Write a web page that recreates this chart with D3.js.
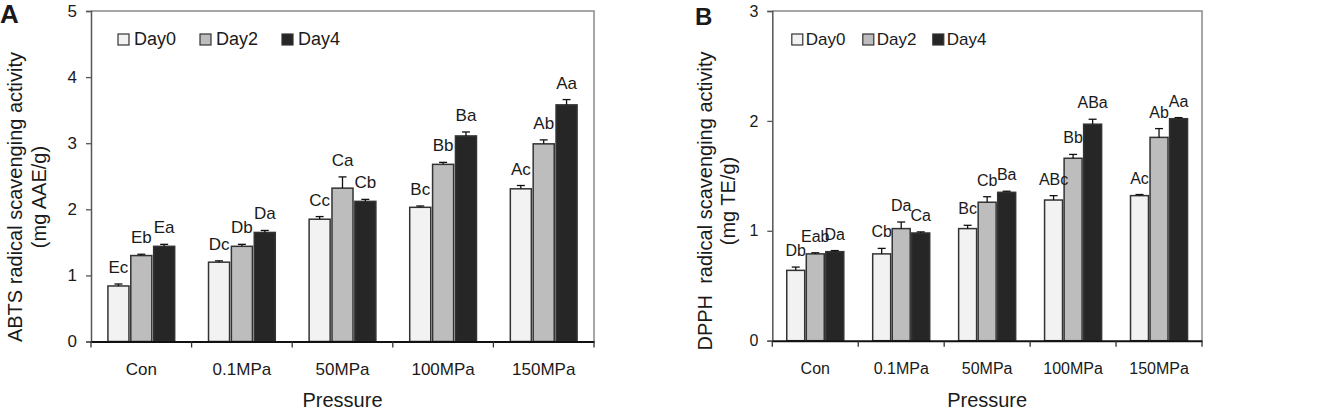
<!DOCTYPE html>
<html lang="en">
<head>
    <meta charset="UTF-8">
    <title>ABTS and DPPH radical scavenging activity</title>
    <script src="https://cdn.jsdelivr.net/npm/d3@7"></script>
    <style>
        body { margin: 0; background: #fff; }
        text { font-family: Arial, "Liberation Sans", sans-serif; fill: #1a1a1a; }
    </style>
</head>
<body>
    <div id="chart-space"></div>

    <script>
        // categories and series
        var categories = ["Con", "0.1MPa", "50MPa", "100MPa", "150MPa"];
        var series = ["Day0", "Day2", "Day4"];

        // panel A: ABTS (mg AAE/g)
        var abtsDay0 = [0.84, 1.20, 1.85, 2.03, 2.31];
        var abtsDay2 = [1.30, 1.44, 2.32, 2.68, 2.99];
        var abtsDay4 = [1.44, 1.65, 2.12, 3.11, 3.58];
        var abtsErr0 = [0.03, 0.02, 0.04, 0.02, 0.05];
        var abtsErr2 = [0.02, 0.03, 0.17, 0.03, 0.06];
        var abtsErr4 = [0.03, 0.03, 0.03, 0.06, 0.08];
        var abtsLab0 = ["Ec", "Dc", "Cc", "Bc", "Ac"];
        var abtsLab2 = ["Eb", "Db", "Ca", "Bb", "Ab"];
        var abtsLab4 = ["Ea", "Da", "Cb", "Ba", "Aa"];
        var abtsTicks = [0, 1, 2, 3, 4, 5];

        // panel B: DPPH (mg TE/g)
        var dpphDay0 = [0.64, 0.79, 1.02, 1.28, 1.32];
        var dpphDay2 = [0.79, 1.02, 1.26, 1.66, 1.85];
        var dpphDay4 = [0.81, 0.98, 1.35, 1.97, 2.02];
        var dpphErr0 = [0.03, 0.05, 0.03, 0.04, 0.01];
        var dpphErr2 = [0.01, 0.06, 0.05, 0.035, 0.08];
        var dpphErr4 = [0.01, 0.01, 0.01, 0.045, 0.01];
        var dpphLab0 = ["Db", "Cb", "Bc", "ABc", "Ac"];
        var dpphLab2 = ["Eab", "Da", "Cb", "Bb", "Ab"];
        var dpphLab4 = ["Da", "Ca", "Ba", "ABa", "Aa"];
        var dpphTicks = [0, 1, 2, 3];

        var fills = ["#f2f2f2", "#bdbdbd", "#262626"];

        var svg = d3.select("#chart-space")
            .append("svg")
            .attr("width", 1341)
            .attr("height", 411);

        svg.append("rect").attr("width", 1341).attr("height", 411).attr("fill", "#fff");

        drawPanel({
            letter: "A", letterX: 0, letterY: 23, letterSize: 26,
            left: 91, right: 594, top: 11, bottom: 341.5,
            values: [abtsDay0, abtsDay2, abtsDay4],
            errors: [abtsErr0, abtsErr2, abtsErr4],
            labels: [abtsLab0, abtsLab2, abtsLab4],
            ticks: abtsTicks,
            title: ["ABTS radical scavenging activity", "(mg AAE/g)"],
            titleX: [22, 46], titleY: 197,
            legendX: [27, 109, 191], legendGap: 16,
            font: 17
        });

        drawPanel({
            letter: "B", letterX: 695, letterY: 25, letterSize: 24,
            left: 772.3, right: 1202, top: 11, bottom: 340.7,
            values: [dpphDay0, dpphDay2, dpphDay4],
            errors: [dpphErr0, dpphErr2, dpphErr4],
            labels: [dpphLab0, dpphLab2, dpphLab4],
            ticks: dpphTicks,
            title: ["DPPH  radical scavenging activity", "(mg TE/g)"],
            titleX: [712, 735], titleY: 201,
            legendX: [19.5, 90.5, 160.5], legendGap: 14,
            font: 16
        });

        function drawPanel(p) {
            var w = p.right - p.left;
            var h = p.bottom - p.top;
            var g = svg.append("g").attr("transform", "translate(" + p.left + "," + p.top + ")");

            var x0 = d3.scaleBand().domain(categories).range([0, w])
                .paddingInner(0.3).paddingOuter(0.15);
            var x1 = d3.scaleBand().domain(series).range([0, x0.bandwidth()]).padding(0.08);
            var y = d3.scaleLinear().domain([0, d3.max(p.ticks)]).range([h, 0]);

            // rows for each bar
            var rows = [];
            series.forEach(function(s, si) {
                categories.forEach(function(c, ci) {
                    rows.push({ cat: c, s: s, si: si, v: p.values[si][ci], e: p.errors[si][ci], lab: p.labels[si][ci] });
                });
            });

            // frame top / right
            g.append("path")
                .attr("d", "M0,0H" + w + "V" + h)
                .attr("fill", "none").attr("stroke", "#8a8a8a").attr("stroke-width", 1.5);

            // bars
            g.selectAll("rect.bar").data(rows).join("rect")
                .attr("class", "bar")
                .attr("x", function(d) { return x0(d.cat) + x1(d.s); })
                .attr("y", function(d) { return y(d.v); })
                .attr("width", x1.bandwidth())
                .attr("height", function(d) { return h - y(d.v); })
                .attr("fill", function(d) { return fills[d.si]; })
                .attr("stroke", "#333").attr("stroke-width", 1.5);

            // error bars (upper only)
            var eb = g.selectAll("g.err").data(rows).join("g").attr("class", "err")
                .attr("transform", function(d) { return "translate(" + (x0(d.cat) + x1(d.s) + x1.bandwidth() / 2) + ",0)"; });
            eb.append("line")
                .attr("y1", function(d) { return y(d.v); })
                .attr("y2", function(d) { return y(d.v + d.e); })
                .attr("stroke", "#111").attr("stroke-width", 1.3);
            eb.append("line")
                .attr("x1", -4).attr("x2", 4)
                .attr("y1", function(d) { return y(d.v + d.e); })
                .attr("y2", function(d) { return y(d.v + d.e); })
                .attr("stroke", "#111").attr("stroke-width", 1.3);

            // significance letters
            g.selectAll("text.lab").data(rows).join("text")
                .attr("class", "lab")
                .attr("x", function(d) { return x0(d.cat) + x1(d.s) + x1.bandwidth() / 2; })
                .attr("y", function(d) { return y(d.v + d.e) - 11; })
                .attr("text-anchor", "middle")
                .style("font-size", p.font + "px")
                .text(function(d) { return d.lab; });

            // y axis
            var yAxis = g.append("g")
                .call(d3.axisLeft(y).tickValues(p.ticks).tickFormat(d3.format("d")).tickSize(5).tickPadding(9));
            yAxis.select(".domain").attr("stroke", "#555").attr("stroke-width", 1.5);
            yAxis.selectAll(".tick line").attr("stroke", "#555").attr("stroke-width", 1.3);
            yAxis.selectAll(".tick text").style("font-size", p.font + "px").attr("fill", "#1a1a1a");

            // x axis: labels in the band, ticks on band boundaries
            var xAxis = g.append("g")
                .attr("transform", "translate(0," + h + ")")
                .call(d3.axisBottom(x0).tickSize(0).tickPadding(0));
            xAxis.select(".domain").attr("stroke", "#111").attr("stroke-width", 2);
            xAxis.selectAll(".tick text")
                .attr("dy", null).attr("y", 33)
                .style("font-size", p.font + "px").attr("fill", "#1a1a1a");
            var bounds = d3.range(categories.length + 1).map(function(i) { return i * x0.step(); });
            xAxis.selectAll("line.bound").data(bounds).join("line")
                .attr("class", "bound")
                .attr("x1", function(d) { return d; }).attr("x2", function(d) { return d; })
                .attr("y1", 0).attr("y2", 6)
                .attr("stroke", "#333").attr("stroke-width", 1.3);

            // x title
            svg.append("text")
                .attr("x", p.left + w / 2).attr("y", 407)
                .attr("text-anchor", "middle")
                .style("font-size", "20px")
                .text("Pressure");

            // y title (two lines)
            p.title.forEach(function(t, i) {
                svg.append("text")
                    .attr("transform", "translate(" + p.titleX[i] + "," + p.titleY + ") rotate(-90)")
                    .attr("text-anchor", "middle")
                    .style("font-size", "20px")
                    .style("white-space", "pre")
                    .text(t);
            });

            // panel letter
            svg.append("text")
                .attr("x", p.letterX).attr("y", p.letterY)
                .style("font-size", p.letterSize + "px")
                .style("font-weight", "bold")
                .attr("fill", "#000")
                .text(p.letter);

            // legend
            var leg = g.selectAll("g.leg").data(series).join("g").attr("class", "leg")
                .attr("transform", function(d, i) { return "translate(" + p.legendX[i] + ",23)"; });
            leg.append("rect")
                .attr("width", 11).attr("height", 11)
                .attr("fill", function(d, i) { return fills[i]; })
                .attr("stroke", "#333").attr("stroke-width", 1.2);
            leg.append("text")
                .attr("x", p.legendGap).attr("y", 11)
                .style("font-size", (p.font + 1) + "px")
                .attr("fill", "#000")
                .text(function(d) { return d; });
        }
    </script>
</body>
</html>
